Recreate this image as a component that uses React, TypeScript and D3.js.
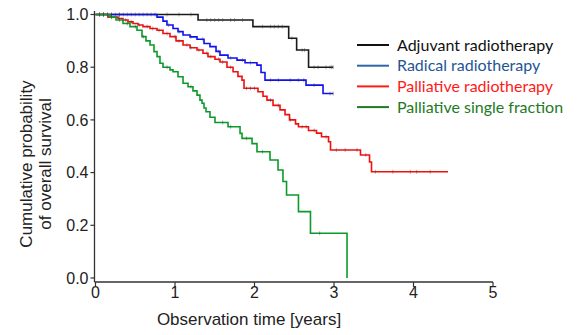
import React from "react";
import * as d3 from "d3";

const xTicks = [0, 1, 2, 3, 4, 5];
const yTicks = [0, 0.2, 0.4, 0.6, 0.8, 1.0];

const seriesNames = ["Adjuvant radiotherapy", "Radical radiotherapy", "Palliative radiotherapy", "Palliative single fraction"];

const blackTimes = [0, 1.29, 1.98, 2.43, 2.53, 2.68];
const blackSurv = [1, 0.979, 0.954, 0.91, 0.865, 0.8];
const blackEnd = 2.99;
const blackCensor = [0.05, 0.1, 0.15, 0.2, 0.25, 0.3, 0.35, 0.45, 0.6, 0.75, 0.9, 1.05, 1.2, 1.4, 1.45, 1.5, 1.55, 1.6, 1.7, 1.75, 1.85, 2.1, 2.2, 2.25, 2.3, 2.35, 2.47, 2.6, 2.63, 2.75, 2.8, 2.9, 2.95, 2.97, 2.99];

const blueTimes = [0, 0.774, 0.849, 0.899, 0.975, 1.038, 1.101, 1.189, 1.277, 1.365, 1.44, 1.516, 1.566, 1.667, 1.78, 1.881, 2.031, 2.082, 2.132, 2.648, 2.862];
const blueSurv = [1, 0.99, 0.975, 0.96, 0.947, 0.935, 0.922, 0.915, 0.906, 0.89, 0.878, 0.86, 0.846, 0.835, 0.827, 0.817, 0.808, 0.78, 0.751, 0.732, 0.7];
const blueEnd = 2.99;
const blueCensor = [0.1, 0.2, 0.3, 0.4, 0.5, 0.55, 0.65, 0.7, 0.92, 1.05, 1.2, 1.35, 1.55, 1.7, 1.85, 1.95, 2.2, 2.3, 2.45, 2.55, 2.62, 2.75, 2.95, 2.99];

const redTimes = [0, 0.157, 0.283, 0.346, 0.409, 0.472, 0.535, 0.597, 0.686, 0.774, 0.849, 0.937, 1.013, 1.101, 1.189, 1.277, 1.352, 1.415, 1.503, 1.566, 1.654, 1.73, 1.792, 1.843, 1.868, 2.044, 2.107, 2.157, 2.233, 2.321, 2.384, 2.44, 2.516, 2.553, 2.679, 2.78, 2.843, 2.931, 2.956, 3.333, 3.447, 3.472];
const redSurv = [1, 0.99, 0.985, 0.979, 0.972, 0.966, 0.96, 0.954, 0.947, 0.94, 0.928, 0.916, 0.9, 0.884, 0.874, 0.865, 0.853, 0.84, 0.83, 0.82, 0.8, 0.783, 0.765, 0.751, 0.72, 0.707, 0.69, 0.675, 0.655, 0.638, 0.62, 0.6, 0.585, 0.574, 0.56, 0.55, 0.536, 0.517, 0.486, 0.467, 0.44, 0.403];
const redEnd = 4.434;
const redCensor = [0.05, 0.1, 0.2, 0.3, 0.38, 0.45, 0.55, 0.65, 0.72, 0.8, 0.9, 1.0, 1.05, 1.15, 1.2, 1.3, 1.4, 1.45, 1.55, 1.6, 1.7, 1.9, 1.95, 2.0, 2.2, 2.3, 2.45, 2.6, 2.65, 2.75, 2.9, 3.03, 3.14, 3.29, 3.4, 3.52, 3.74, 3.96, 4.04, 4.21];

const greenTimes = [0, 0.182, 0.258, 0.346, 0.434, 0.522, 0.585, 0.635, 0.686, 0.736, 0.774, 0.811, 0.849, 0.937, 0.975, 1.038, 1.101, 1.164, 1.226, 1.277, 1.314, 1.34, 1.365, 1.39, 1.44, 1.503, 1.667, 1.818, 1.843, 1.969, 2.031, 2.195, 2.296, 2.358, 2.403, 2.553, 2.704, 3.164];
const greenSurv = [1, 0.99, 0.979, 0.966, 0.954, 0.94, 0.916, 0.9, 0.884, 0.859, 0.84, 0.815, 0.8, 0.79, 0.783, 0.764, 0.739, 0.726, 0.71, 0.694, 0.675, 0.663, 0.645, 0.631, 0.61, 0.59, 0.574, 0.549, 0.53, 0.51, 0.479, 0.448, 0.41, 0.366, 0.315, 0.252, 0.17, 0];
const greenEnd = 3.164;
const greenCensor = [0.05, 0.1, 0.15, 0.2, 0.3, 0.4, 0.5, 0.6, 0.9, 1.2, 1.6, 1.7, 1.9, 2.1, 2.82];

const lineColors = ["#1a1a1a", "#1010f0", "#f01010", "#0c9a2a"];
const legendLineColors = ["#111111", "#2e66a6", "#ff1a1a", "#1e7a24"];
const legendTextColors = ["#111111", "#1f5594", "#ff1a1a", "#1e7a24"];

const series = [
  { times: blackTimes, surv: blackSurv, end: blackEnd, censor: blackCensor },
  { times: blueTimes, surv: blueSurv, end: blueEnd, censor: blueCensor },
  { times: redTimes, surv: redSurv, end: redEnd, censor: redCensor },
  { times: greenTimes, surv: greenSurv, end: greenEnd, censor: greenCensor },
];

const x = d3.scaleLinear().domain([0, 5]).range([95.5, 493]);
const y = d3.scaleLinear().domain([0, 1]).range([278, 14.5]);
const axisY = 282;
const axisX = 94.5;

function survAt(times: number[], surv: number[], t: number) {
  let s = surv[0];
  for (let i = 0; i < times.length; i++) {
    if (times[i] <= t) s = surv[i];
  }
  return s;
}

export default function App() {
  const line = d3
    .line<[number, number]>()
    .x((d) => x(d[0]))
    .y((d) => y(d[1]))
    .curve(d3.curveStepAfter);

  const axisFont = "'Liberation Sans', Arial, sans-serif";
  const legendFont = "Lato, 'Open Sans', sans-serif";

  return (
    <svg width={578} height={335} style={{ position: "absolute", left: 0, top: 0, background: "#fff" }}>
      {/* axes */}
      <line x1={axisX} x2={axisX} y1={11} y2={axisY} stroke="#333" strokeWidth={1.3} />
      <line x1={axisX} x2={x(5)} y1={axisY} y2={axisY} stroke="#333" strokeWidth={1.3} />
      {yTicks.map((t) => (
        <g key={"y" + t}>
          <line x1={axisX - 4} x2={axisX} y1={y(t)} y2={y(t)} stroke="#333" strokeWidth={1.2} />
          <text x={axisX - 6} y={y(t)} dy="0.36em" textAnchor="end" fontFamily={axisFont} fontSize={16} fill="#222">
            {t.toFixed(1)}
          </text>
        </g>
      ))}
      {xTicks.map((t) => (
        <g key={"x" + t}>
          <line x1={x(t)} x2={x(t)} y1={axisY} y2={axisY + 5} stroke="#333" strokeWidth={1.2} />
          <text x={x(t)} y={axisY + 16} textAnchor="middle" fontFamily={axisFont} fontSize={16} fill="#222">
            {t}
          </text>
        </g>
      ))}
      <text x={249} y={325} textAnchor="middle" fontFamily={axisFont} fontSize={17} fill="#222">
        Observation time [years]
      </text>
      <g transform="translate(32,164) rotate(-90)">
        <text x={0} y={0} textAnchor="middle" fontFamily={axisFont} fontSize={17} fill="#222">
          Cumulative probability
        </text>
        <text x={0} y={18.5} textAnchor="middle" fontFamily={axisFont} fontSize={17} fill="#222">
          of overall survival
        </text>
      </g>

      {/* curves */}
      {series.map((s, i) => {
        const pts: [number, number][] = s.times.map((t, j) => [t, s.surv[j]] as [number, number]);
        pts.push([s.end, s.surv[s.surv.length - 1]]);
        return (
          <g key={"s" + i}>
            <path d={line(pts) || ""} fill="none" stroke={lineColors[i]} strokeWidth={1.6} />
            {s.censor.map((c, k) => {
              const cy = y(survAt(s.times, s.surv, c));
              return (
                <line key={k} x1={x(c)} x2={x(c)} y1={cy - 2} y2={cy + 2} stroke="#333" strokeWidth={0.8} opacity={0.5} />
              );
            })}
          </g>
        );
      })}

      {/* legend */}
      {seriesNames.map((name, i) => {
        const ly = 45 + i * 20.7;
        return (
          <g key={"l" + i}>
            <line x1={357} x2={389} y1={ly} y2={ly} stroke={legendLineColors[i]} strokeWidth={2} />
            <text x={397} y={ly} dy="0.35em" fontFamily={legendFont} fontSize={16} fill={legendTextColors[i]}>
              {name}
            </text>
          </g>
        );
      })}
    </svg>
  );
}
